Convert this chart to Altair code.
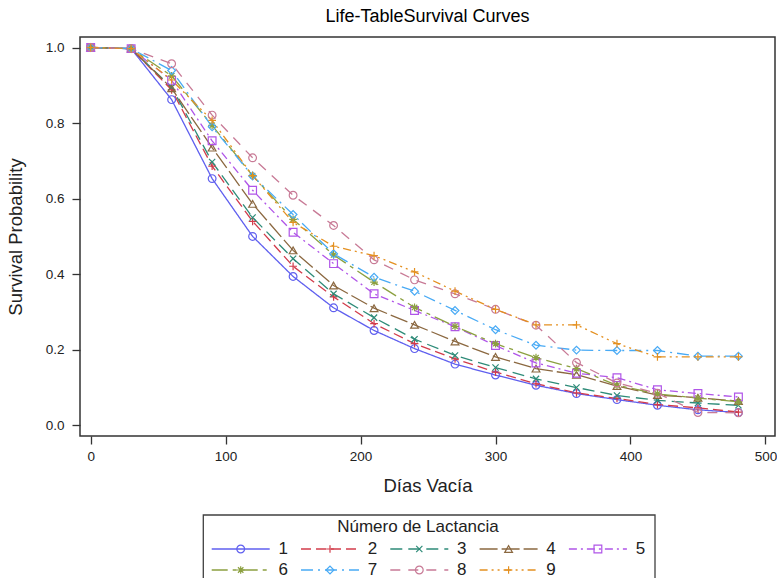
import altair as alt
import pandas as pd

# ---------------- data ----------------
days = [0, 30, 60, 90, 120, 150, 180, 210, 240, 270, 300, 330, 360, 390, 420, 450, 480]
lactancia = ["1", "2", "3", "4", "5", "6", "7", "8", "9"]

s1 = [1.0, 0.997, 0.862, 0.653, 0.500, 0.394, 0.311, 0.251, 0.203, 0.162, 0.133, 0.106, 0.084, 0.068, 0.053, 0.041, 0.034]
s2 = [1.0, 0.997, 0.888, 0.686, 0.540, 0.421, 0.340, 0.269, 0.216, 0.176, 0.141, 0.110, 0.086, 0.071, 0.055, 0.046, 0.035]
s3 = [1.0, 0.997, 0.895, 0.697, 0.550, 0.441, 0.348, 0.285, 0.228, 0.185, 0.153, 0.123, 0.100, 0.079, 0.066, 0.059, 0.053]
s4 = [1.0, 0.997, 0.892, 0.735, 0.586, 0.463, 0.370, 0.310, 0.266, 0.222, 0.181, 0.150, 0.134, 0.104, 0.080, 0.073, 0.064]
s5 = [1.0, 0.997, 0.913, 0.753, 0.622, 0.511, 0.428, 0.348, 0.304, 0.261, 0.211, 0.165, 0.138, 0.126, 0.094, 0.084, 0.075]
s6 = [1.0, 0.997, 0.925, 0.794, 0.661, 0.545, 0.451, 0.379, 0.312, 0.262, 0.216, 0.179, 0.150, 0.106, 0.083, 0.072, 0.062]
s7 = [1.0, 0.997, 0.939, 0.790, 0.660, 0.558, 0.454, 0.392, 0.355, 0.304, 0.253, 0.212, 0.199, 0.198, 0.198, 0.183, 0.183]
s8 = [1.0, 0.997, 0.957, 0.821, 0.708, 0.609, 0.529, 0.438, 0.385, 0.348, 0.307, 0.265, 0.166, 0.112, 0.085, 0.034, 0.033]
s9 = [1.0, 0.997, 0.914, 0.807, 0.661, 0.537, 0.474, 0.449, 0.406, 0.355, 0.307, 0.266, 0.266, 0.216, 0.181, 0.181, 0.181]
series = [s1, s2, s3, s4, s5, s6, s7, s8, s9]

x_ticks = [0, 100, 200, 300, 400, 500]
y_ticks = [0.0, 0.2, 0.4, 0.6, 0.8, 1.0]

# ---------------- styles ----------------
colors = ["#5F5FEF", "#D23C4B", "#2E8B78", "#8B6840", "#B055E8",
          "#8CA040", "#48AAF5", "#C87A96", "#E49020"]
dashes = [[1, 0], [10, 5], [12, 6], [18, 4], [8, 4, 2, 4],
          [16, 5, 4, 5], [12, 5, 2, 5], [10, 8], [8, 4, 2, 4, 2, 4]]
shapes = ["circle",
          "M-1,0L1,0M0,-1L0,1",
          "M-0.8,-0.8L0.8,0.8M-0.8,0.8L0.8,-0.8",
          "triangle-up",
          "square",
          "M-1,0L1,0M0,-1L0,1M-0.7,-0.7L0.7,0.7M-0.7,0.7L0.7,-0.7",
          "diamond",
          "circle",
          "M-1,0L1,0M0,-1L0,1"]

FONT = "Liberation Sans, Arial, sans-serif"

W, H = 695, 399

rows = []
for lab, vals in zip(lactancia, series):
    for d, v in zip(days, vals):
        rows.append({"dias": d, "surv": v, "lact": lab})
df = pd.DataFrame(rows)

color_scale = alt.Scale(domain=lactancia, range=colors)
dash_scale = alt.Scale(domain=lactancia, range=dashes)
shape_scale = alt.Scale(domain=lactancia, range=shapes)

x_scale = alt.Scale(domain=[-7.9, 507.1], nice=False, zero=False)
y_scale = alt.Scale(domain=[-0.0283, 1.0278], nice=False, zero=False)

base = alt.Chart(df).encode(
    x=alt.X("dias:Q", scale=x_scale,
            axis=alt.Axis(values=x_ticks, title="Días Vacía", format="d")),
    y=alt.Y("surv:Q", scale=y_scale,
            axis=alt.Axis(values=y_ticks, title="Survival Probability", format=".1f")),
    color=alt.Color("lact:N", scale=color_scale, legend=None),
)
lines = base.mark_line(strokeWidth=1.3).encode(
    strokeDash=alt.StrokeDash("lact:N", scale=dash_scale, legend=None)
)
points = base.mark_point(filled=False, size=60, strokeWidth=1.2, opacity=1).encode(
    shape=alt.Shape("lact:N", scale=shape_scale, legend=None)
)
main = alt.layer(lines, points)

# ---------------- legend (drawn below the plot) ----------------
LEG_LEFT, LEG_STEP, LEG_LINE = 131.7, 89.3, 58
ROW0, ROW_STEP = 512, 21
leg_rows = []
for i, lab in enumerate(lactancia):
    c, r = i % 5, i // 5
    x1 = LEG_LEFT + c * LEG_STEP
    leg_rows.append({"lact": lab, "lx1": x1, "lx2": x1 + LEG_LINE,
                     "mx": x1 + LEG_LINE / 2, "tx": x1 + 71.5,
                     "ly": ROW0 + r * ROW_STEP})
leg_df = pd.DataFrame(leg_rows)
box_df = pd.DataFrame([{"bx1": 123.3, "bx2": 575, "by1": 478, "by2": 570}])
title_df = pd.DataFrame([{"tx": 338, "ty": 489.7, "t": "Número de Lactancia"}])

lxs = alt.Scale(domain=[0, W], nice=False, zero=False)
lys = alt.Scale(domain=[0, H], nice=False, zero=False, reverse=True)

box = alt.Chart(box_df).mark_rect(fill="white", fillOpacity=0, stroke="#404040",
                                  strokeWidth=1.3).encode(
    x=alt.X("bx1:Q", scale=lxs, axis=None), x2="bx2:Q",
    y=alt.Y("by1:Q", scale=lys, axis=None), y2="by2:Q")
leg_rules = alt.Chart(leg_df).mark_rule(strokeWidth=1.3).encode(
    x=alt.X("lx1:Q", scale=lxs, axis=None), x2="lx2:Q",
    y=alt.Y("ly:Q", scale=lys, axis=None),
    color=alt.Color("lact:N", scale=color_scale, legend=None),
    strokeDash=alt.StrokeDash("lact:N", scale=dash_scale, legend=None))
leg_pts = alt.Chart(leg_df).mark_point(filled=False, size=60, strokeWidth=1.2, opacity=1).encode(
    x=alt.X("mx:Q", scale=lxs, axis=None),
    y=alt.Y("ly:Q", scale=lys, axis=None),
    color=alt.Color("lact:N", scale=color_scale, legend=None),
    shape=alt.Shape("lact:N", scale=shape_scale, legend=None))
leg_txt = alt.Chart(leg_df).mark_text(align="center", baseline="middle", fontSize=17,
                                      font=FONT, color="#222").encode(
    x=alt.X("tx:Q", scale=lxs, axis=None),
    y=alt.Y("ly:Q", scale=lys, axis=None),
    text="lact:N")
leg_title = alt.Chart(title_df).mark_text(align="center", baseline="middle", fontSize=17,
                                          font=FONT, color="#222").encode(
    x=alt.X("tx:Q", scale=lxs, axis=None),
    y=alt.Y("ty:Q", scale=lys, axis=None),
    text="t:N")
legend = alt.layer(box, leg_rules, leg_pts, leg_txt, leg_title)

chart = alt.layer(main, legend).resolve_scale(
    x="independent", y="independent"
).properties(
    width=W, height=H,
    title=alt.TitleParams("Life-TableSurvival Curves", font=FONT, fontSize=18,
                          fontWeight="normal", color="black", anchor="middle", offset=11),
    padding={"left": 80, "top": 37, "right": 2, "bottom": 142},
    autosize=alt.AutoSizeParams(type="none"),
).configure_view(
    stroke="#333", strokeWidth=1.5
).configure_axis(
    domain=False, grid=False,
    tickSize=8, tickColor="#333", tickWidth=1.3,
    labelFont=FONT, labelFontSize=13.5, labelColor="#222",
    titleFont=FONT, titleFontSize=18.5, titleFontWeight="normal", titleColor="#222",
).configure_axisX(
    labelPadding=5, titlePadding=14
).configure_axisY(
    labelPadding=8, titlePadding=20
)

chart.save("out.html", embed_options={"renderer": "svg", "actions": False})
